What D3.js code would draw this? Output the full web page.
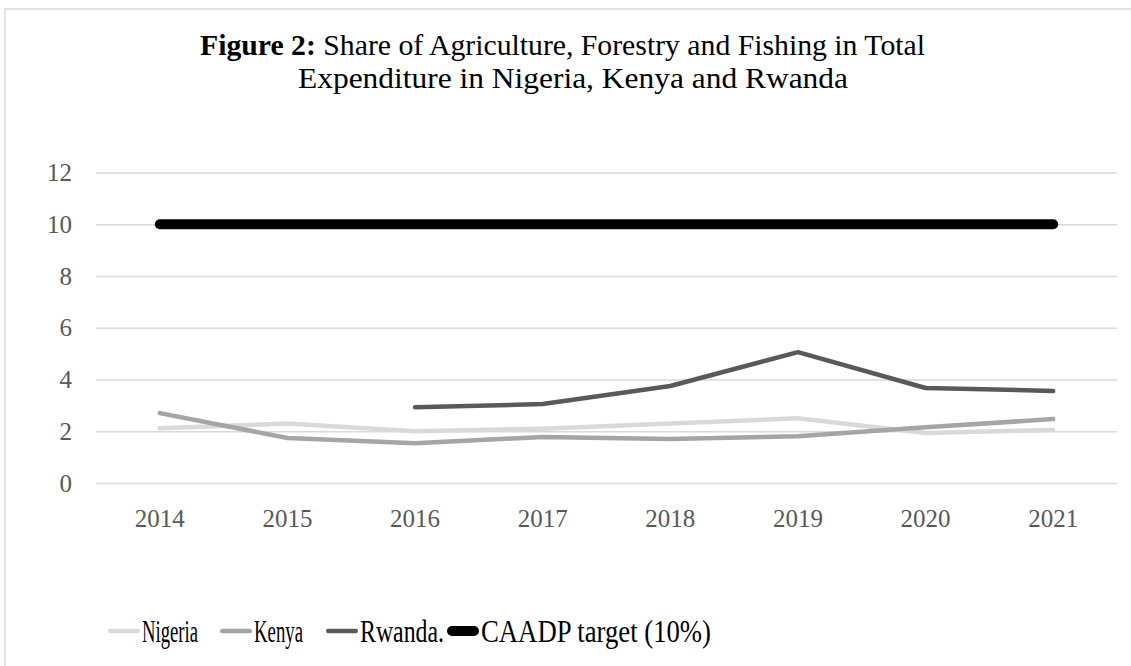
<!DOCTYPE html>
<html>
<head>
<meta charset="utf-8">
<script src="https://cdn.jsdelivr.net/npm/d3@7"></script>
<style>
  body { margin: 0; background: #fff; }
  svg { display: block; }
</style>
</head>
<body>
<div id="chart"></div>
<script>
// data
const years = ["2014", "2015", "2016", "2017", "2018", "2019", "2020", "2021"];
const nigeria = [2.12, 2.3, 2.0, 2.1, 2.3, 2.5, 1.93, 2.05];
const kenya = [2.7, 1.74, 1.54, 1.78, 1.7, 1.81, 2.15, 2.47];
const rwanda = [null, null, 2.93, 3.05, 3.75, 5.06, 3.67, 3.56];
const caadp = [10, 10, 10, 10, 10, 10, 10, 10];
const yTicks = [0, 2, 4, 6, 8, 10, 12];

const seriesNames = ["Nigeria", "Kenya", "Rwanda.", "CAADP target (10%)"];
const seriesColors = ["#d9d9d9", "#a5a5a5", "#595959", "#000000"];

const width = 1131, height = 666;
const margin = {left: 96, right: 14, top: 172.5, bottom: 183};

const series = [nigeria, kenya, rwanda, caadp].map((vals, i) => ({
    name: seriesNames[i],
    color: seriesColors[i],
    width: i == 3 ? 10 : 4.5,
    values: vals
}));

let svg = d3.select("#chart")
    .append("svg")
    .attr("width", width)
    .attr("height", height);

// light frame (only top and left edges are visible)
svg.append("rect")
    .attr("x", 5).attr("y", 9)
    .attr("width", width + 20).attr("height", height + 20)
    .attr("fill", "#fff")
    .attr("stroke", "#d9d9d9")
    .attr("stroke-width", 1.5);

var x = d3.scaleBand()
    .domain(years)
    .range([margin.left, width - margin.right]);

var y = d3.scaleLinear()
    .domain([0, 12])
    .range([height - margin.bottom, margin.top]);

// gridlines + y labels
var yAxis = d3.axisLeft(y)
    .tickValues(yTicks)
    .tickSize(-(width - margin.left - margin.right))
    .tickPadding(24);

svg.append("g")
    .attr("transform", `translate(${margin.left},0)`)
    .call(yAxis)
    .call(g => g.select(".domain").remove())
    .call(g => g.selectAll(".tick line").attr("stroke", "#d9d9d9").attr("stroke-width", 1.4))
    .call(g => g.selectAll(".tick text")
        .attr("fill", "#595959")
        .style("font-family", "'Liberation Serif', serif")
        .style("font-size", "25px"));

// x labels
var xAxis = d3.axisBottom(x).tickSize(0).tickPadding(26);
svg.append("g")
    .attr("transform", `translate(0,${y(0)})`)
    .call(xAxis)
    .call(g => g.select(".domain").remove())
    .call(g => g.selectAll(".tick text")
        .attr("fill", "#595959")
        .style("font-family", "'Liberation Serif', serif")
        .style("font-size", "25px"));

var line = d3.line()
    .defined(d => d.v != null)
    .x(d => x(d.year) + x.bandwidth() / 2)
    .y(d => y(d.v));

svg.append("g")
    .selectAll("path")
    .data(series)
    .join("path")
    .attr("d", s => line(s.values.map((v, i) => ({year: years[i], v: v}))))
    .attr("fill", "none")
    .attr("stroke", s => s.color)
    .attr("stroke-width", s => s.width)
    .attr("stroke-linecap", "round")
    .attr("stroke-linejoin", "round");

// title, two lines
let title1 = svg.append("text")
    .attr("x", 200).attr("y", 55)
    .attr("textLength", 725)
    .attr("lengthAdjust", "spacingAndGlyphs")
    .style("font-family", "'Liberation Serif', serif")
    .style("font-size", "30px")
    .attr("fill", "#000");
title1.append("tspan").attr("font-weight", "bold").text("Figure 2:");
title1.append("tspan").text(" Share of Agriculture, Forestry and Fishing in Total");

svg.append("text")
    .attr("x", 298).attr("y", 88)
    .attr("textLength", 550)
    .attr("lengthAdjust", "spacingAndGlyphs")
    .style("font-family", "'Liberation Serif', serif")
    .style("font-size", "30px")
    .attr("fill", "#000")
    .text("Expenditure in Nigeria, Kenya and Rwanda");

// legend
const legendLineX = [108, 220, 326, 447];
const legendTextW = [56, 49, 84, 230];
let legend = svg.append("g")
    .selectAll("g")
    .data(series)
    .join("g")
    .attr("transform", (d, i) => `translate(${legendLineX[i]},631)`);

legend.append("line")
    .attr("x1", d => d.width / 2).attr("x2", d => 32 - d.width / 2)
    .attr("stroke", d => d.color)
    .attr("stroke-width", d => d.width)
    .attr("stroke-linecap", "round");

legend.append("text")
    .attr("x", 34)
    .attr("y", 11)
    .attr("textLength", (d, i) => legendTextW[i])
    .attr("lengthAdjust", "spacingAndGlyphs")
    .style("font-family", "'Liberation Serif', serif")
    .style("font-size", "31px")
    .attr("fill", "#000")
    .text(d => d.name);
</script>
</body>
</html>
